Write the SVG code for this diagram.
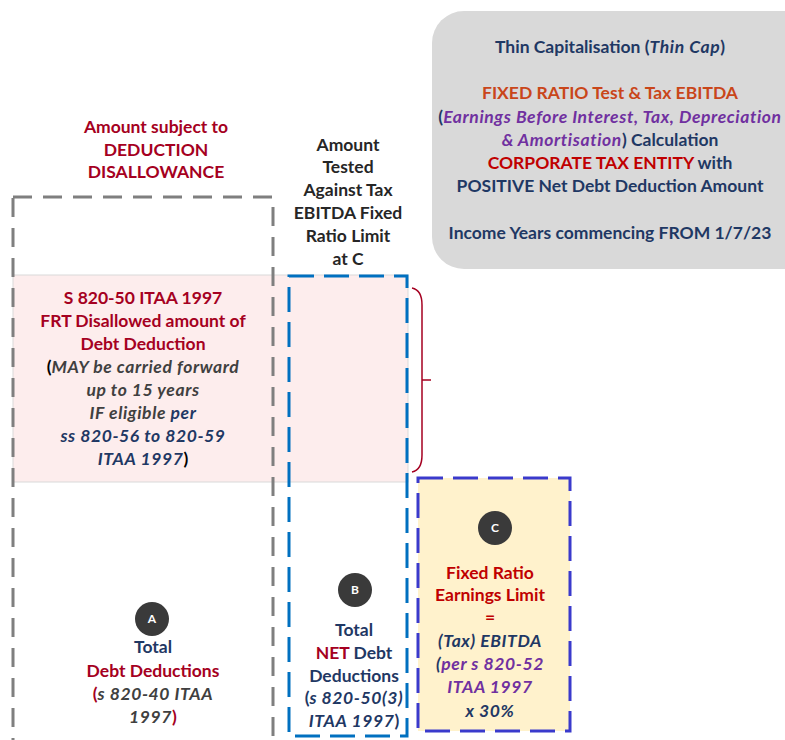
<svg xmlns="http://www.w3.org/2000/svg" width="785" height="740" viewBox="0 0 785 740">
<style>
text{font-family:Lato,"Liberation Sans",sans-serif;font-weight:bold;font-size:17.5px;text-anchor:middle}
.i{font-style:italic;letter-spacing:0.6px}
.cr{fill:#a50021}
.rd{fill:#c00000}
.nv{fill:#1f3864}
.dg{fill:#404040}
.bk{fill:#262626}
.pu{fill:#7030a0}
.or{fill:#c9461a}
.badge{fill:#3a3a3a}
.bt{fill:#ffffff;font-size:12px}
</style>
<rect width="785" height="740" fill="#ffffff"/>

<g id="header">
<rect x="432" y="11" width="383" height="258" rx="32" ry="32" fill="#d9d9d9"/>
<text x="610" y="53"><tspan class="nv">Thin Capitalisation (</tspan><tspan class="nv i">Thin Cap</tspan><tspan class="nv">)</tspan></text>
<text x="610" y="99" class="or">FIXED RATIO Test &amp; Tax EBITDA</text>
<text x="610" y="123"><tspan class="nv">(</tspan><tspan class="pu i">Earnings Before Interest, Tax, Depreciation</tspan></text>
<text x="610" y="146"><tspan class="pu i">&amp; Amortisation</tspan><tspan class="nv">) Calculation</tspan></text>
<text x="610" y="169"><tspan class="rd">CORPORATE TAX ENTITY</tspan><tspan class="nv"> with</tspan></text>
<text x="610" y="192" class="nv">POSITIVE Net Debt Deduction Amount</text>
<text x="610" y="239" class="nv">Income Years commencing FROM 1/7/23</text>
</g>

<g id="disallowance-label">
<text x="156" y="133" class="cr">Amount subject to</text>
<text x="156" y="156" class="cr">DEDUCTION</text>
<text x="156" y="178" class="cr">DISALLOWANCE</text>
</g>

<g id="tested-label">
<text x="348" y="151" class="bk">Amount</text>
<text x="348" y="173" class="bk">Tested</text>
<text x="348" y="196" class="bk">Against Tax</text>
<text x="348" y="219" class="bk">EBITDA Fixed</text>
<text x="348" y="242" class="bk">Ratio Limit</text>
<text x="348" y="265" class="bk">at C</text>
</g>

<g id="disallowed-amount">
<rect x="13" y="275" width="395" height="207" fill="#fdeded" stroke="#d9d9d9" stroke-width="1"/>
<text x="143" y="304" class="cr">S 820-50 ITAA 1997</text>
<text x="143" y="327" class="cr">FRT Disallowed amount of</text>
<text x="143" y="350" class="cr">Debt Deduction</text>
<text x="143" y="373"><tspan fill="#000">(</tspan><tspan class="dg i">MAY be carried forward</tspan></text>
<text x="143" y="396" class="dg i">up to 15 years</text>
<text x="143" y="419"><tspan class="dg i">IF eligible </tspan><tspan class="nv i">per</tspan></text>
<text x="143" y="442" class="nv i">ss 820-56 to 820-59</text>
<text x="143" y="465"><tspan class="nv i">ITAA 1997</tspan><tspan fill="#000">)</tspan></text>
</g>

<g id="node-a">
<rect x="13" y="197" width="260" height="560" fill="none" stroke="#7f7f7f" stroke-width="3" stroke-dasharray="19 11"/>
<circle cx="152" cy="619" r="17" class="badge"/>
<text x="152" y="623" class="bt">A</text>
<text x="153" y="653" class="nv">Total</text>
<text x="153" y="677" class="cr">Debt Deductions</text>
<text x="153" y="700"><tspan class="cr">(</tspan><tspan class="dg i">s 820-40 ITAA</tspan></text>
<text x="153" y="723"><tspan class="dg i">1997</tspan><tspan class="cr">)</tspan></text>
</g>

<g id="node-b">
<rect x="289" y="276" width="118" height="460" fill="none" stroke="#0070c0" stroke-width="3" stroke-dasharray="25 10"/>
<circle cx="355" cy="590" r="17" class="badge"/>
<text x="355" y="594" class="bt">B</text>
<text x="354" y="636" class="nv">Total</text>
<text x="354" y="659"><tspan class="cr">NET</tspan><tspan class="nv"> Debt</tspan></text>
<text x="354" y="682" class="nv">Deductions</text>
<text x="354" y="704"><tspan class="nv">(</tspan><tspan class="nv i">s 820-50(3)</tspan></text>
<text x="354" y="727"><tspan class="nv i">ITAA 1997</tspan><tspan class="nv">)</tspan></text>
</g>

<g id="node-c">
<rect x="418" y="478" width="152" height="253" fill="#fff2cc" stroke="#3a3acc" stroke-width="3" stroke-dasharray="25 10"/>
<circle cx="495" cy="528" r="17" class="badge"/>
<text x="495" y="532" class="bt">C</text>
<text x="490" y="579" class="rd">Fixed Ratio</text>
<text x="490" y="601" class="rd">Earnings Limit</text>
<text x="490" y="623" class="rd">=</text>
<text x="490" y="647" class="nv i">(Tax) EBITDA</text>
<text x="490" y="670"><tspan class="nv i">(</tspan><tspan class="pu i">per s 820-52</tspan></text>
<text x="490" y="693" class="pu i">ITAA 1997</text>
<text x="490" y="717" class="nv i">x 30%</text>
</g>

<g id="connectors">
<path d="M412,288 Q422,290 422,305 L422,455 Q422,470 412,472 M422,380 H431" fill="none" stroke="#a50021" stroke-width="1.5"/>
</g>
</svg>
